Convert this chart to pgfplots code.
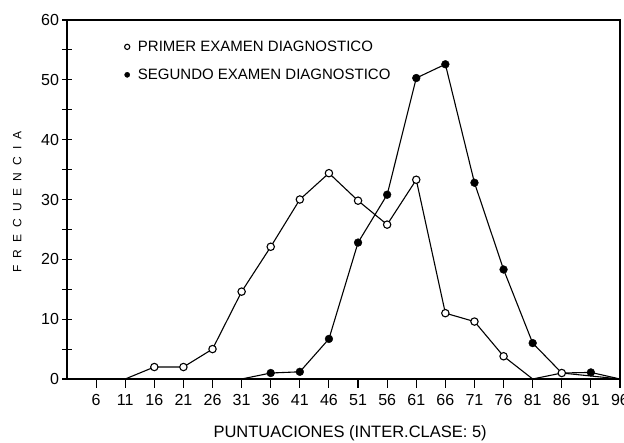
\documentclass[border=0pt]{standalone}
\usepackage{fontspec}
\setmainfont{Liberation Sans}
\usepackage{pgfplots}
\pgfplotsset{compat=1.18}
\newcommand{\g}{\hspace{7pt}}
\begin{document}
\begin{tikzpicture}[x=1pt,y=1pt]
\path[use as bounding box] (0,0) rectangle (624,443);
\begin{axis}[
  at={(67pt,64pt)}, anchor=south west,
  scale only axis, width=553pt, height=359pt,
  xmin=1, xmax=96, ymin=0, ymax=60,
  xtick={6,11,...,96}, ytick={0,10,...,60}, minor ytick={5,15,...,55},
  xtick pos=bottom, ytick pos=left,
  xtick align=outside, ytick align=center,
  major tick length=9pt, minor tick length=9pt,
  tick style={line width=1.1pt, black},
  axis line style={line width=1.5pt},
  /pgf/number format/assume math mode=true,
  x tick label style={font=\fontsize{16}{16}\selectfont, yshift=-3pt},
  y tick label style={font=\fontsize{16}{16}\selectfont},
  xlabel={PUNTUACIONES (INTER.CLASE: 5)},
  xlabel style={font=\fontsize{16.5}{16.5}\selectfont, at={(axis description cs:0.512,-0.150)}, anchor=center},
  ylabel={F\g R\g E\g C\g U\g E\g N\g C\g I\g A},
  ylabel style={font=\fontsize{12}{12}\selectfont, at={(axis description cs:-0.090,0.493)}, anchor=center},
  legend style={at={(axis description cs:0.103,0.948)}, anchor=north west, draw=none, fill=none,
    font=\fontsize{15}{15}\selectfont, row sep=12pt, inner sep=0pt},
  legend cell align=left,
  legend image code/.code={\path (-0.1cm,0cm) (0.3cm,0cm); \draw[#1, mark size=2.6pt] plot coordinates {(0cm,0cm)};},
]
% lines
\addplot[forget plot, black, line width=1.1pt] coordinates {
 (11,0)(16,2)(21,2)(26,5)(31,14.6)(36,22.1)(41,30)(46,34.4)(51,29.8)(56,25.8)(61,33.3)(66,11)(71,9.6)(76,3.8)(81,0)(86,1)(96,0)};
\addplot[forget plot, black, line width=1.1pt] coordinates {
 (31,0)(36,1)(41,1.2)(46,6.7)(51,22.8)(56,30.8)(61,50.3)(66,52.6)(71,32.8)(76,18.3)(81,6)(86,1)(91,1.1)(96,0)};
% marks
\addplot[only marks, mark=*, mark size=3.7pt, mark options={fill=white, draw=black, line width=1.1pt}] coordinates {
 (16,2)(21,2)(26,5)(31,14.6)(36,22.1)(41,30)(46,34.4)(51,29.8)(56,25.8)(61,33.3)(66,11)(71,9.6)(76,3.8)(86,1)};
\addlegendentry{PRIMER EXAMEN DIAGNOSTICO}
\addplot[only marks, mark=*, mark size=3.9pt, mark options={fill=black, draw=black}] coordinates {
 (36,1)(41,1.2)(46,6.7)(51,22.8)(56,30.8)(61,50.3)(66,52.6)(71,32.8)(76,18.3)(81,6)(91,1.1)};
\addlegendentry{SEGUNDO EXAMEN DIAGNOSTICO}
\end{axis}
\end{tikzpicture}
\end{document}
